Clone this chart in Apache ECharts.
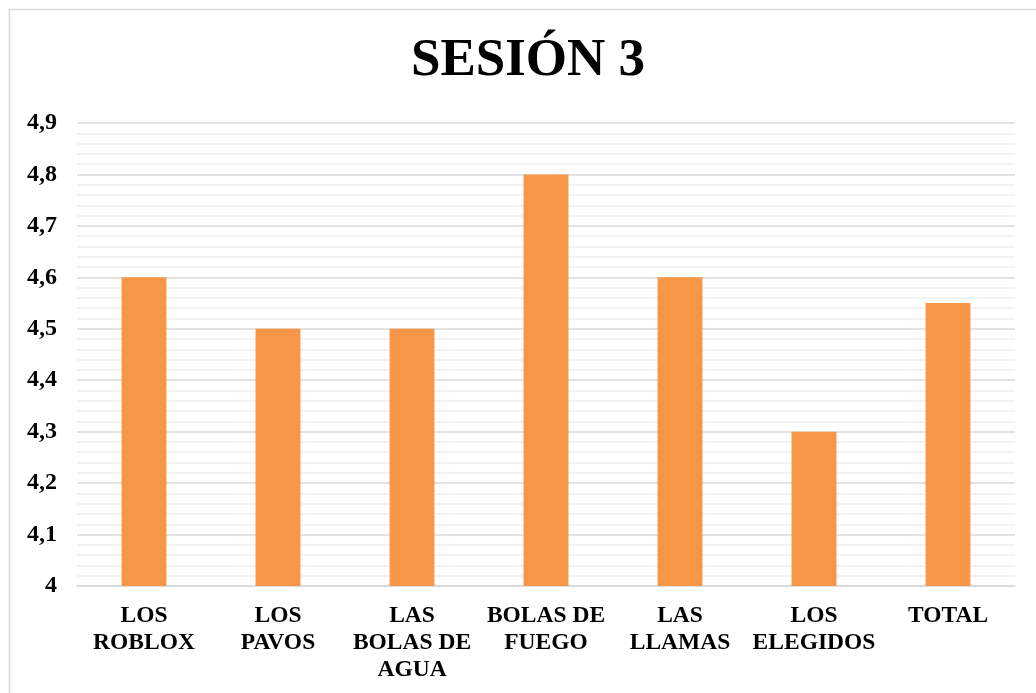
<!DOCTYPE html>
<html><head><meta charset="utf-8">
<script src="https://cdn.jsdelivr.net/npm/echarts@6/dist/echarts.min.js"></script>
<style>html,body{margin:0;padding:0;background:#fff}#c{width:1036px;height:693px}</style>
</head><body><div id="c"></div>
<script>
const categories = ["LOS\nROBLOX","LOS\nPAVOS","LAS\nBOLAS DE\nAGUA","BOLAS DE\nFUEGO","LAS\nLLAMAS","LOS\nELEGIDOS","TOTAL"];
const values = [4.6, 4.5, 4.5, 4.8, 4.6, 4.3, 4.55];
const yMin = 4, yMax = 4.9, yStep = 0.1;
const font = '"Liberation Serif","Times New Roman",serif';
const chart = echarts.init(document.getElementById('c'));
chart.setOption({
  animation:false,
  backgroundColor:'#fff',
  graphic:[
    {type:'rect',shape:{x:9.5,y:9.5,width:1100,height:800},style:{fill:'none',stroke:'#d9d9d9',lineWidth:1.5},silent:true},
    {type:'text',x:528,y:61,style:{text:'SESIÓN 3',fontFamily:font,fontWeight:'bold',fontSize:53,fill:'#000',textAlign:'center',textVerticalAlign:'middle'},silent:true}
  ],
  grid:{left:77,right:21,top:123,bottom:107},
  xAxis:{type:'category',data:categories,
    axisLine:{show:true,lineStyle:{color:'#d9d9d9',width:1.5}},axisTick:{show:false},
    axisLabel:{interval:0,margin:16,fontFamily:font,fontWeight:'bold',fontSize:23.5,color:'#000',lineHeight:27}},
  yAxis:{type:'value',min:yMin,max:yMax,interval:yStep,
    axisLine:{show:false},axisTick:{show:false},
    axisLabel:{margin:20,fontFamily:font,fontWeight:'bold',fontSize:24,color:'#000',
      formatter:v=>String(Math.round(v*10)/10).replace('.',',')},
    splitLine:{lineStyle:{color:'#d9d9d9',width:1.5}},
    minorTick:{show:false,splitNumber:5},
    minorSplitLine:{show:true,lineStyle:{color:'#efefef',width:1.5}}},
  series:[{type:'bar',data:values,barWidth:'33.5%',itemStyle:{color:'#F79646'}}]
});
</script></body></html>
